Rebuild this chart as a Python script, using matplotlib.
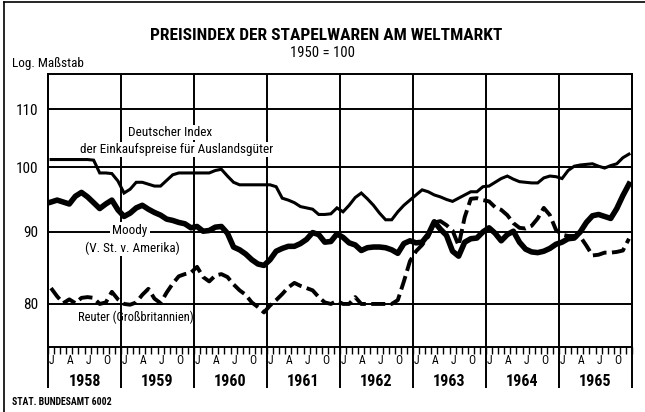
import matplotlib
matplotlib.use("Agg")
import matplotlib.pyplot as plt
from matplotlib import font_manager
from matplotlib.ticker import NullLocator, FixedLocator, NullFormatter
import matplotlib.transforms as mtransforms
import numpy as np

# ---------------- data ----------------
years = ["1958", "1959", "1960", "1961", "1962", "1963", "1964", "1965"]
month_letters = ["J", "A", "J", "O"]
month_letter_pos = [0, 3, 6, 9]
ytick_values = [80, 90, 100, 110]
ytick_labels = ["80", "90", "100", "110"]

deutscher = [
    101.3, 101.3, 101.3, 101.3, 101.3, 101.3, 101.3, 101.2, 99.1, 99.1, 99.0, 97.8,
    95.9, 96.5, 97.6, 97.6, 97.3, 97.0, 97.0, 97.9, 98.8, 99.1, 99.1, 99.1,
    99.1, 99.1, 99.1, 99.5, 99.7, 98.6, 97.6, 97.2, 97.2, 97.2, 97.2, 97.2,
    97.2, 96.9, 95.1, 94.8, 94.4, 93.8, 93.6, 93.4, 92.6, 92.6, 92.7, 93.6,
    93.0, 94.0, 95.2, 95.9, 95.0, 94.0, 92.8, 91.8, 91.8, 93.0, 94.0, 94.8,
    95.6, 96.4, 96.1, 95.6, 95.3, 94.9, 94.6, 95.1, 95.6, 96.1, 96.1, 96.9,
    97.0, 97.6, 98.2, 98.6, 98.1, 97.7, 97.6, 97.5, 97.5, 98.3, 98.6, 98.5,
    98.2, 99.5, 100.2, 100.4, 100.5, 100.6, 100.2, 99.9, 100.3, 100.6, 101.6, 102.2,
]
moody = [
    94.5, 94.8, 94.5, 94.2, 95.4, 96.0, 95.3, 94.4, 93.5, 94.2, 94.8, 93.3,
    92.3, 92.8, 93.6, 94.0, 93.4, 92.9, 92.5, 91.9, 91.7, 91.4, 91.2, 90.6,
    90.8, 90.1, 90.2, 90.7, 90.8, 89.8, 87.8, 87.4, 86.8, 86.0, 85.4, 85.2,
    86.0, 87.2, 87.6, 87.9, 87.9, 88.3, 88.9, 89.9, 89.6, 88.5, 88.6, 89.7,
    89.2, 88.4, 88.1, 87.3, 87.7, 87.8, 87.8, 87.7, 87.4, 86.9, 88.3, 88.7,
    88.4, 88.5, 89.6, 91.5, 90.4, 89.5, 87.2, 86.5, 88.5, 89.0, 89.1, 90.0,
    90.6, 89.8, 88.7, 89.6, 90.1, 88.5, 87.5, 87.1, 87.0, 87.2, 87.6, 88.2,
    88.5, 89.0, 89.1, 90.0, 91.4, 92.4, 92.6, 92.3, 92.0, 93.5, 95.5, 97.3,
]
reuter = [
    82.1, 81.0, 80.1, 80.6, 80.1, 80.8, 80.9, 80.8, 80.0, 80.2, 81.6, 80.6,
    80.0, 79.9, 80.2, 81.2, 82.0, 80.7, 80.1, 81.5, 82.7, 83.7, 84.0, 84.2,
    85.0, 83.6, 83.0, 83.8, 84.0, 83.6, 82.6, 81.8, 81.2, 80.2, 79.6, 78.9,
    79.8, 80.5, 81.3, 82.2, 82.8, 82.4, 82.1, 81.8, 80.9, 80.2, 80.0, 80.4,
    80.0, 80.0, 80.9, 80.0, 80.0, 80.0, 80.0, 80.0, 80.0, 80.5, 83.0, 85.8,
    87.2, 88.1, 89.3, 91.4, 91.6, 91.0, 90.2, 88.0, 92.2, 95.0, 95.1, 94.8,
    94.6, 93.7, 93.3, 92.5, 91.3, 90.6, 90.5, 90.9, 92.0, 93.6, 92.5, 90.3,
    89.6, 89.4, 89.4, 89.3, 88.0, 86.6, 86.7, 87.0, 87.0, 87.1, 87.3, 89.0,
]

# ---------------- fonts ----------------
def pick(families):
    for f in families:
        try:
            font_manager.findfont(f, fallback_to_default=False)
            return f
        except Exception:
            continue
    return "DejaVu Sans"

FONT = pick(["Liberation Sans Narrow", "Roboto Condensed", "Liberation Sans", "DejaVu Sans"])
plt.rcParams["font.family"] = [FONT, "DejaVu Sans"]

W, H = 645, 412
fig = plt.figure(figsize=(W / 100, H / 100), dpi=100)
fig.patch.set_facecolor("white")

def fx(px):
    return px / W

def fy(py):
    return 1 - py / H

ax_l, ax_r, ax_t, ax_b = 48, 632, 74, 346.7
ax = fig.add_axes([fx(ax_l), fy(ax_b), fx(ax_r - ax_l), (ax_b - ax_t) / H])

n = len(deutscher)
x = np.arange(n) + 0.5
nyears = len(years)

ax.set_yscale("log")
ax.set_ylim(74.6, 116.5)
ax.set_xlim(0, 12 * nyears)

# grid
for v in ytick_values:
    ax.axhline(v, color="black", lw=1.4, zorder=1)

blend = mtransforms.blended_transform_factory(ax.transData, ax.transAxes)
ax_h_px = ax_b - ax_t
yr_bottom = -(388 - ax_b) / ax_h_px
for k in range(nyears + 1):
    ax.plot([12 * k, 12 * k], [1, yr_bottom], color="black", lw=1.4,
            transform=blend, clip_on=False, zorder=1, solid_capstyle="butt")

# series
ax.plot(x, deutscher, color="black", lw=2.2, zorder=3, solid_joinstyle="miter")
ax.plot(x, moody, color="black", lw=4.0, zorder=4, solid_joinstyle="round")
ax.plot(x, reuter, color="black", lw=2.8, zorder=3, linestyle=(0, (3.6, 1.4)),
        dash_capstyle="butt")

# axes styling
for s in ax.spines.values():
    s.set_linewidth(1.4)
ax.yaxis.set_minor_locator(NullLocator())
ax.yaxis.set_minor_formatter(NullFormatter())
ax.set_yticks(ytick_values)
ax.set_yticklabels(ytick_labels, fontsize=11)
ax.tick_params(axis="y", length=0, pad=7)
ax.xaxis.set_major_locator(FixedLocator(np.arange(0, 12 * nyears + 1, 1)))
ax.xaxis.set_major_formatter(NullFormatter())
ax.tick_params(axis="x", length=5, width=1.0, direction="out")

# month letters and year labels
ml_y = -(361 - ax_b) / ax_h_px
yl_y = -(381 - ax_b) / ax_h_px
for k, yr in enumerate(years):
    for lp, lt in zip(month_letter_pos, month_letters):
        ax.text(12 * k + lp + 0.6, ml_y, lt, transform=blend, ha="center", va="center",
                fontsize=8.5)
    ax.text(12 * k + 6, yl_y, yr, transform=blend, ha="center", va="center",
            fontsize=11.5, fontweight="bold")

# series labels
def mx(px):
    return (px - ax_l) / ((ax_r - ax_l) / (12 * nyears))

def my(py):
    return 80 * 10 ** ((304 - py) / 1407.8)

box = dict(facecolor="white", edgecolor="none", pad=0.8)
ax.text(mx(170), my(133), "Deutscher Index", ha="center", va="center", fontsize=9.5,
        bbox=box, zorder=5)
ax.text(mx(177), my(150), "der Einkaufspreise für Auslandsgüter", ha="center", va="center",
        fontsize=9.5, bbox=box, zorder=5)
ax.text(mx(130), my(231), "Moody", ha="center", va="center", fontsize=9.5,
        bbox=dict(facecolor="white", edgecolor="none", pad=1.5), zorder=5)
ax.text(mx(132), my(248), "(V. St. v. Amerika)", ha="center", va="center", fontsize=9.5,
        bbox=box, zorder=5)
ax.text(mx(78), my(317), "Reuter (Großbritannien)", ha="left", va="center", fontsize=9,
        zorder=5)

# titles and notes
fig.text(fx(326), fy(35), "PREISINDEX DER STAPELWAREN AM WELTMARKT", ha="center",
         va="center", fontsize=12.5, fontweight="bold")
fig.text(fx(322), fy(53), "1950 = 100", ha="center", va="center", fontsize=10.5)
fig.text(fx(12), fy(63), "Log. Maßstab", ha="left", va="center", fontsize=9.5)
fig.text(fx(12), fy(402), "STAT. BUNDESAMT 6002", ha="left", va="center", fontsize=7,
         fontweight="bold")

# outer frame (left and top)
fig.add_artist(plt.Line2D([fx(4), fx(4)], [fy(2), fy(412)], color="black", lw=1.2,
                          transform=fig.transFigure))
fig.add_artist(plt.Line2D([fx(4), fx(645)], [fy(2), fy(2)], color="black", lw=1.2,
                          transform=fig.transFigure))

fig.savefig("out.png", dpi=100, facecolor="white")
